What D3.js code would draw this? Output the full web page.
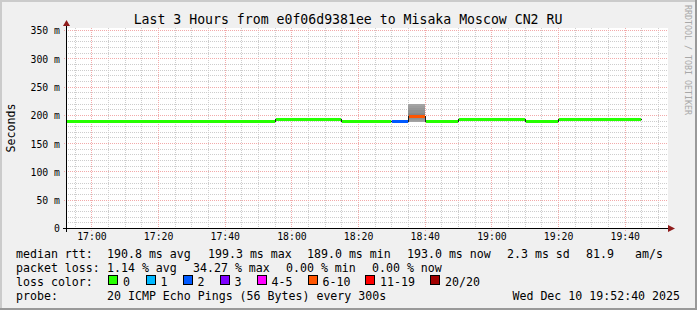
<!DOCTYPE html>
<html>
<head>
<meta charset="utf-8">
<script src="https://cdn.jsdelivr.net/npm/d3@7"></script>
<style>
  body { margin: 0; background: #fff; }
  svg text { font-family: "DejaVu Sans Mono", monospace; fill: #000; }
</style>
</head>
<body>
<svg id="chart" width="697" height="310"></svg>
<script>
var title = "Last 3 Hours from e0f06d9381ee to Misaka Moscow CN2 RU";
var startTime = "2025-12-10 16:52:40";
var endTime = "2025-12-10 19:52:40";

// median rtt per step (ms) and lost pings out of 20
var stepStart  = ["16:50", "17:55", "18:15", "18:30", "18:35", "18:40", "18:50", "19:10", "19:20"];
var stepEnd    = ["17:55", "18:15", "18:30", "18:35", "18:40", "18:50", "19:10", "19:20", "19:45"];
var stepMedian = [190.0, 193.0, 189.0, 190.0, 198.5, 189.0, 192.8, 189.0, 193.0];
var stepLoss   = [0, 0, 0, 2, 7, 0, 0, 0, 0];

// the smoky step, sorted received pings (ms)
var smokeStart = "18:35";
var smokeEnd = "18:40";
var smokePings = [187, 189, 191, 193, 195, 197, 198.5, 201, 204, 208, 212, 216, 219];

var lossLabels = ["0", "1", "2", "3", "4-5", "6-10", "11-19", "20/20"];
var lossUpTo   = [0, 1, 2, 3, 5, 10, 19, 20];
var lossColors = ["#26ff00", "#00b8ff", "#0059ff", "#7e00ff", "#ff00ff", "#ff5500", "#ff0000", "#a10000"];

var yTicks = [0, 50, 100, 150, 200, 250, 300, 350];
var yMax = 353.5;

var rttText  = ["median rtt:", "190.8 ms avg", "199.3 ms max", "189.0 ms min", "193.0 ms now", "2.3 ms sd", "81.9", "am/s"];
var rttX     = [16, 107, 208, 307, 407, 507, 586, 635];
var lossText = ["packet loss:", "1.14 % avg", "34.27 % max", "0.00 % min", "0.00 % now"];
var lossX    = [16, 107, 193, 286, 372];
var swatchX  = [108, 145.5, 182.5, 219.5, 256.5, 307.5, 365, 430];
var probeText = "20 ICMP Echo Pings (56 Bytes) every 300s";
var stampText = "Wed Dec 10 19:52:40 2025";

var parseFull = d3.utcParse("%Y-%m-%d %H:%M:%S");
var parseHM = function(s) { return parseFull("2025-12-10 " + s + ":00"); };

var svg = d3.select("#chart");
var W = 697, H = 310;
var plotL = 67, plotR = 667, plotT = 28, plotB = 228;

var x = d3.scaleUtc().domain([parseFull(startTime), parseFull(endTime)]).range([plotL, plotR]);
var y = d3.scaleLinear().domain([0, yMax]).range([plotB, plotT]);
var px = function(t) { return Math.round(x(t)); };
var py = function(v) { return Math.round(y(v)); };

// dotted patterns for the grid (1px on, 1px off)
var defs = svg.append("defs");
function dots(id, color, horiz) {
  defs.append("pattern").attr("id", id).attr("patternUnits", "userSpaceOnUse")
    .attr("width", horiz ? 2 : 1).attr("height", horiz ? 1 : 2)
    .append("rect").attr("width", 1).attr("height", 1).attr("fill", color);
}
dots("hMinor", "#cdcdcd", true);
dots("vMinor", "#cdcdcd", false);
dots("hMajor", "#f2aaaa", true);
dots("vMajor", "#f2aaaa", false);

// frame
svg.append("rect").attr("width", W).attr("height", H).attr("fill", "#f0f0f0");
svg.append("path").attr("d", "M0,0H" + W + "V2H2V" + H + "H0Z").attr("fill", "#cbcbcb");
svg.append("path").attr("d", "M" + W + "," + H + "H0V" + (H - 2) + "H" + (W - 2) + "V0H" + W + "Z").attr("fill", "#999999");

svg.append("rect")
  .attr("x", plotL).attr("y", plotT)
  .attr("width", plotR - plotL + 1).attr("height", plotB - plotT)
  .attr("fill", "#ffffff");

// grid: every 5 minutes / 10 ms, major every 20 minutes / 50 ms
var $grid = svg.append("g").classed("grid", true).attr("shape-rendering", "crispEdges");
var fiveMin = 300000;
var t0 = Math.ceil(x.domain()[0].getTime() / fiveMin) * fiveMin;
var gridTimes = d3.range(t0, x.domain()[1].getTime(), fiveMin).map(function(ms) { return new Date(ms); });
var minorX = gridTimes.filter(function(t) { return t.getUTCMinutes() % 20 !== 0; });
var majorX = gridTimes.filter(function(t) { return t.getUTCMinutes() % 20 === 0; });
var minorY = d3.range(10, yMax, 10).filter(function(v) { return v % 50 !== 0; });
var majorY = yTicks.filter(function(v) { return v > 0; });

function hLines(cls, data, ext, fill) {
  $grid.selectAll("rect." + cls).data(data).enter().append("rect").classed(cls, true)
    .attr("x", plotL - ext).attr("width", plotR + 1 - plotL + ext)
    .attr("y", py).attr("height", 1)
    .attr("fill", fill);
}
function vLines(cls, data, ext, fill) {
  $grid.selectAll("rect." + cls).data(data).enter().append("rect").classed(cls, true)
    .attr("y", plotT).attr("height", plotB - plotT + ext)
    .attr("x", px).attr("width", 1)
    .attr("fill", fill);
}
hLines("hmin", minorY, 2, "url(#hMinor)");
vLines("vmin", minorX, 2, "url(#vMinor)");
hLines("hmaj", majorY, 4, "url(#hMajor)");
vLines("vmaj", majorX, 4, "url(#vMajor)");

// data
svg.append("clipPath").attr("id", "plotclip")
  .append("rect").attr("x", plotL).attr("y", plotT).attr("width", plotR - plotL).attr("height", plotB - plotT);
var $data = svg.append("g").attr("clip-path", "url(#plotclip)").attr("shape-rendering", "crispEdges");

var smokeBands = d3.range(smokePings.length - 1);
var mid = (smokePings.length - 2) / 2;
$data.selectAll("rect.smoke").data(smokeBands).enter().append("rect")
  .attr("x", px(parseHM(smokeStart)))
  .attr("width", px(parseHM(smokeEnd)) - px(parseHM(smokeStart)))
  .attr("y", function(i) { return py(smokePings[i + 1]); })
  .attr("height", function(i) { return py(smokePings[i]) - py(smokePings[i + 1]); })
  .attr("fill", function(i) {
    var g = Math.round(128 + 36 * Math.abs(i - mid) / mid);
    return d3.rgb(g, g, g);
  });

var steps = d3.range(stepStart.length).map(function(i) {
  return { t0: parseHM(stepStart[i]), t1: parseHM(stepEnd[i]), v: stepMedian[i], loss: stepLoss[i] };
});

var medianLine = d3.line()
  .x(function(d) { return px(d[0]) + 0.5; })
  .y(function(d) { return py(d[1]) + 0.5; })
  .curve(d3.curveStepAfter);
var pts = steps.map(function(s) { return [s.t0, s.v]; });
pts.push([steps[steps.length - 1].t1, steps[steps.length - 1].v]);
$data.append("path").attr("d", medianLine(pts))
  .attr("fill", "none").attr("stroke", "#202020").attr("stroke-width", 1);

function lossColor(n) {
  for (var i = 0; i < lossUpTo.length; i++) { if (n <= lossUpTo[i]) return lossColors[i]; }
  return lossColors[lossColors.length - 1];
}
$data.selectAll("rect.median").data(steps).enter().append("rect")
  .attr("x", function(d) { return px(d.t0) + 1; })
  .attr("width", function(d) { return px(d.t1) - px(d.t0) - 1; })
  .attr("y", function(d) { return py(d.v) - 1; })
  .attr("height", 3)
  .attr("fill", function(d) { return lossColor(d.loss); });

// axes
var arrow = "#8f1c1c";
svg.append("rect").attr("x", plotL - 4).attr("width", plotR + 3 - plotL + 4).attr("y", plotB).attr("height", 1).attr("fill", "#000");
svg.append("rect").attr("x", plotL - 1).attr("width", 1).attr("y", plotT - 4).attr("height", plotB + 4 - plotT + 4).attr("fill", "#000");
svg.append("path").attr("d", "M" + (plotR + 1) + "," + (plotB - 3) + "L" + (plotR + 8) + "," + (plotB + 0.5) + "L" + (plotR + 1) + "," + (plotB + 4) + "Z").attr("fill", arrow);
svg.append("path").attr("d", "M" + (plotL - 4) + "," + (plotT - 2) + "L" + (plotL - 0.5) + "," + (plotT - 8) + "L" + (plotL + 3) + "," + (plotT - 2) + "Z").attr("fill", arrow);

var yAxis = d3.axisLeft(y).tickValues(yTicks).tickSize(0).tickPadding(0)
  .tickFormat(function(d) { return d === 0 ? "0" : d + " m"; });
svg.append("g").attr("transform", "translate(60,0.5)").call(yAxis)
  .call(function(g) { g.select(".domain").remove(); })
  .selectAll("text").attr("font-size", "9.8px").attr("font-family", "DejaVu Sans Mono").attr("dy", "0.35em").attr("fill", "#000");

var xAxis = d3.axisBottom(x).tickValues(majorX).tickSize(0).tickPadding(0)
  .tickFormat(d3.utcFormat("%H:%M"));
svg.append("g").attr("transform", "translate(0,232)").call(xAxis)
  .call(function(g) { g.select(".domain").remove(); })
  .selectAll("text").attr("font-size", "9.8px").attr("font-family", "DejaVu Sans Mono").attr("dy", "0.8em").attr("fill", "#000");

// titles
svg.append("text").attr("x", 348).attr("y", 23.5).attr("text-anchor", "middle")
  .attr("font-size", "13.2px").text(title);
svg.append("text").attr("transform", "translate(15,128) rotate(-90)").attr("text-anchor", "middle")
  .attr("font-size", "11.6px").text("Seconds");
svg.append("text").attr("transform", "translate(685,5) rotate(90)")
  .attr("font-size", "8.3px").style("fill", "#a8a8a8").text("RRDTOOL / TOBI OETIKER");

// legend
var legend = svg.append("g").attr("font-size", "11.6px").style("white-space", "pre");
rttText.forEach(function(t, i) { legend.append("text").attr("x", rttX[i]).attr("y", 258).text(t); });
lossText.forEach(function(t, i) { legend.append("text").attr("x", lossX[i]).attr("y", 272).text(t); });
legend.append("text").attr("x", 16).attr("y", 286).text("loss color:");
lossLabels.forEach(function(t, i) {
  legend.append("rect").attr("x", swatchX[i] + 0.5).attr("y", 275.5).attr("width", 9).attr("height", 9)
    .attr("fill", lossColors[i]).attr("stroke", "#000").attr("shape-rendering", "crispEdges");
  legend.append("text").attr("x", swatchX[i] + 15).attr("y", 286).text(t);
});
legend.append("text").attr("x", 16).attr("y", 300).text("probe:");
legend.append("text").attr("x", 107).attr("y", 300).text(probeText);
legend.append("text").attr("x", 680).attr("y", 300).attr("text-anchor", "end").text(stampText);
</script>
</body>
</html>
